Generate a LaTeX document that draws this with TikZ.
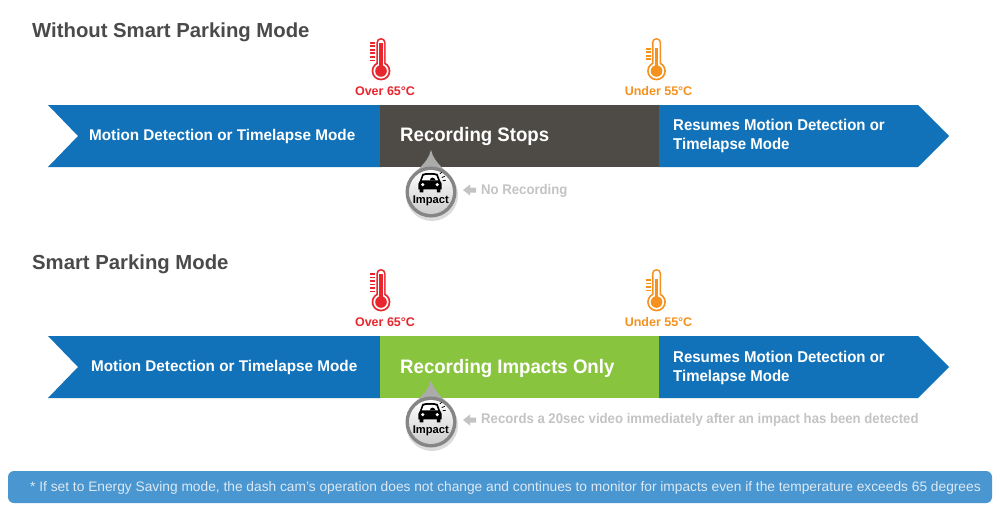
\documentclass[tikz,border=0pt]{standalone}
\usepackage{fontspec}
\setmainfont{Liberation Sans}
\newfontfamily\narrowa[FakeStretch=.985]{Liberation Sans}
\newfontfamily\narrowb[FakeStretch=.955]{Liberation Sans}
\newfontfamily\narrowc[FakeStretch=.94]{Liberation Sans}
\usetikzlibrary{calc}
\definecolor{barblue}{HTML}{1172B9}
\definecolor{bardark}{HTML}{4E4B46}
\definecolor{bargreen}{HTML}{89C43F}
\definecolor{hot}{HTML}{E8262E}
\definecolor{warm}{HTML}{F5921E}
\definecolor{headgray}{HTML}{4A4A4A}
\definecolor{notegray}{HTML}{C4C4C4}
\definecolor{footblue}{HTML}{4A96D0}
\definecolor{foottext}{HTML}{DDE9F4}
\tikzset{
  x=1pt,y=-1pt,
  heading/.style={anchor=west,inner sep=0pt,text=headgray,font=\fontsize{20.3}{24}\selectfont\bfseries},
  bartext/.style={anchor=west,inner sep=0pt,text=white,align=left,font=\narrowa\fontsize{15.5}{18.5}\selectfont\bfseries},
  bartextb/.style={anchor=west,inner sep=0pt,text=white,align=left,font=\narrowb\fontsize{15.7}{18.7}\selectfont\bfseries},
  bigtext/.style={anchor=west,inner sep=0pt,text=white,font=\narrowb\fontsize{19.5}{23}\selectfont\bfseries},
  templabel/.style={inner sep=0pt,font=\fontsize{12.5}{15}\selectfont\bfseries},
  notetext/.style={anchor=west,inner sep=0pt,text=notegray,font=\narrowc\fontsize{14}{17}\selectfont\bfseries},
  impacttext/.style={inner sep=0pt,text=black,font=\fontsize{11.2}{12}\selectfont\bfseries},
}
% thermometer: x of tube centre, y of top, colour, stem top, tick list
\newcommand{\thermo}[5]{%
  \begin{scope}[shift={(#1,#2)}]
    \fill[#3] (0,33) circle[radius=9.4];
    \fill[#3,rounded corners=4.6pt] (-4.7,0) rectangle (4.7,32);
    \fill[white] (0,33) circle[radius=7.6];
    \fill[white,rounded corners=3pt] (-3,1.7) rectangle (3,32);
    \fill[#3] (0,33) circle[radius=5.8];
    \fill[#3] (-1.6,#4) rectangle (1.6,32);
    \foreach \yy in {#5}{\fill[#3] (-11,\yy) rectangle (-6,\yy+1.7);}
  \end{scope}}
% impact badge: centre x, centre y, name of its label
\newcommand{\badge}[3]{%
  \begin{scope}[shift={(#1,#2)}]
    \fill[black!33] (0,-42) .. controls (-1.5,-36) and (-5,-29) .. (-17,-19) -- (17,-19) .. controls (5,-29) and (1.5,-36) .. (0,-42) -- cycle;
    \fill[black!14] (1,3) circle[radius=26];
    \fill[black!48] (0,0) circle[radius=25.5];
    \shade[top color=white,bottom color=black!20] (0,0) circle[radius=22];
    % car
    \begin{scope}[shift={(-1,-9)},scale=0.9]
      \fill[black] (-8.5,-10) .. controls (-6,-11.5) and (6,-11.5) .. (8.5,-10) -- (11,-3) .. controls (12,-2) and (13,-1) .. (13,1)
        -- (13,7) -- (11.5,7) -- (11.5,10.5) -- (7.5,10.5) -- (7.5,7) -- (-7.5,7) -- (-7.5,10.5) -- (-11.5,10.5) -- (-11.5,7) -- (-13,7) -- (-13,1)
        .. controls (-13,-1) and (-12,-2) .. (-11,-3) -- cycle;
      \fill[white] (-7,-8.3) .. controls (-5,-9.3) and (5,-9.3) .. (7,-8.3) -- (9,-3) -- (-9,-3) -- cycle;
      \fill[white] (-8,1.8) circle[radius=2] (8,1.8) circle[radius=2];
      \fill[black] (0,-3) .. controls (0,-7) and (5,-7) .. (6.2,-3) -- cycle;
      \draw[black,line width=0.8pt] (13,-6) -- (16.5,-7.5) (14,-2.5) -- (17.5,-3) (11,-10) -- (13,-12);
    \end{scope}
    \node[impacttext] (#3) at (-0.2,8.5) {Impact};
  \end{scope}}
\begin{document}
\begin{tikzpicture}
\useasboundingbox (0,0) rectangle (1000,519);
\fill[white] (0,0) rectangle (1000,519);
% ---- top
\node[heading] (h1) at (32,32) {Without Smart Parking Mode};
\thermo{381}{38}{hot}{5}{4,7.5,11,14.5,18,21.5}
\thermo{656.5}{38}{warm}{10}{10,13.5,17,20.5}
\node[templabel,text=hot] (t1) at (385,91) {Over 65°C};
\node[templabel,text=warm] (t2) at (658.5,91) {Under 55°C};
\fill[barblue] (48,105) -- (381,105) -- (381,167) -- (48,167) -- (78,136) -- cycle;
\fill[bardark] (380,105) rectangle (659,167);
\fill[barblue] (659,105) -- (918,105) -- (949,136) -- (918,167) -- (659,167) -- cycle;
\node[bartext] (b1) at (89,136.5) {Motion Detection or Timelapse Mode};
\node[bigtext] (b2) at (400,136.5) {Recording Stops};
\node[bartextb] (b3) at (673,136) {Resumes Motion Detection or\\Timelapse Mode};
\badge{431}{192}{i1}
\fill[notegray] (463,190) -- (470,184.5) -- (470,187.5) -- (476,187.5) -- (476,192.5) -- (470,192.5) -- (470,195.5) -- cycle;
\node[notetext] (n1) at (481,190.5) {No Recording};
% ---- bottom
\node[heading] (h2) at (32,264) {Smart Parking Mode};
\thermo{381}{269}{hot}{5}{4,7.5,11,14.5,18,21.5}
\thermo{656.5}{269}{warm}{10}{10,13.5,17,20.5}
\node[templabel,text=hot] (t3) at (385,322.5) {Over 65°C};
\node[templabel,text=warm] (t4) at (658.5,322.5) {Under 55°C};
\fill[barblue] (48,336) -- (381,336) -- (381,398) -- (48,398) -- (78,367) -- cycle;
\fill[bargreen] (380,336) rectangle (659,398);
\fill[barblue] (659,336) -- (918,336) -- (949,367) -- (918,398) -- (659,398) -- cycle;
\node[bartext] (b4) at (91,367) {Motion Detection or Timelapse Mode};
\node[bigtext] (b5) at (400,368.5) {Recording Impacts Only};
\node[bartextb] (b6) at (673,368) {Resumes Motion Detection or\\Timelapse Mode};
\badge{431}{422}{i2}
\fill[notegray] (463,420) -- (470,414.5) -- (470,417.5) -- (476,417.5) -- (476,422.5) -- (470,422.5) -- (470,425.5) -- cycle;
\node[notetext] (n2) at (481,420) {Records a 20sec video immediately after an impact has been detected};
% ---- footer
\fill[footblue,rounded corners=6pt] (8,471) rectangle (992,503);
\node[inner sep=0pt,anchor=west,text=foottext,font=\fontsize{13.75}{17}\selectfont] (f) at (30,487.5) {* If set to Energy Saving mode, the dash cam's operation does not change and continues to monitor for impacts even if the temperature exceeds 65 degrees};
\end{tikzpicture}
\end{document}
